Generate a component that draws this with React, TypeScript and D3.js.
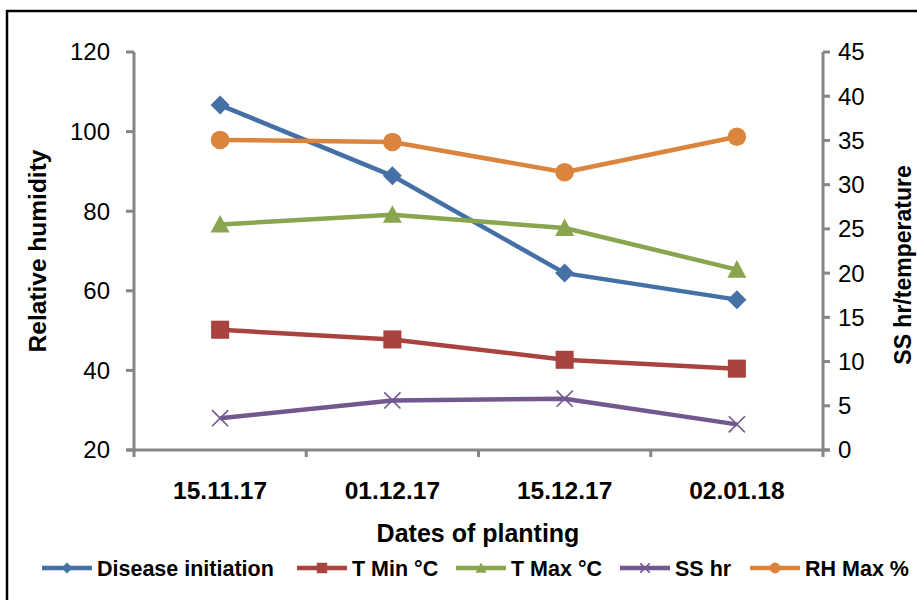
import React from "react";
import * as d3 from "d3";

const categories = ["15.11.17", "01.12.17", "15.12.17", "02.01.18"];
const diseaseInitiation = [39, 31, 20, 17];
const tMin = [13.6, 12.5, 10.2, 9.2];
const tMax = [25.5, 26.6, 25.1, 20.4];
const ssHr = [3.6, 5.6, 5.8, 2.9];
const rhMax = [97.9, 97.4, 89.8, 98.7];
const leftTicks = [20, 40, 60, 80, 100, 120];
const rightTicks = [0, 5, 10, 15, 20, 25, 30, 35, 40, 45];

type Marker = "diamond" | "square" | "triangle" | "x" | "circle";
type Series = { name: string; values: number[]; color: string; marker: Marker; axis: "left" | "right" };

const series: Series[] = [
  { name: "Disease initiation", values: diseaseInitiation, color: "#4470A6", marker: "diamond", axis: "right" },
  { name: "T Min °C", values: tMin, color: "#A8433F", marker: "square", axis: "right" },
  { name: "T Max °C", values: tMax, color: "#89A54E", marker: "triangle", axis: "right" },
  { name: "SS hr", values: ssHr, color: "#71588F", marker: "x", axis: "right" },
  { name: "RH Max %", values: rhMax, color: "#DB843D", marker: "circle", axis: "left" },
];

const W = 917;
const H = 600;
const plotLeft = 134;
const plotRight = 823;
const plotTop = 52;
const plotBottom = 450;
const axisColor = "#868686";
const font = "'Liberation Sans', Arial, sans-serif";

function MarkerShape({ type, cx, cy, s, color }: { type: Marker; cx: number; cy: number; s: number; color: string }) {
  const h = s / 2;
  switch (type) {
    case "diamond":
      return <path d={`M${cx},${cy - h}L${cx + h},${cy}L${cx},${cy + h}L${cx - h},${cy}Z`} fill={color} />;
    case "square":
      return <rect x={cx - h * 0.95} y={cy - h * 0.95} width={s * 0.95} height={s * 0.95} fill={color} />;
    case "triangle":
      return <path d={`M${cx},${cy - h}L${cx + h},${cy + h * 0.85}L${cx - h},${cy + h * 0.85}Z`} fill={color} />;
    case "x": {
      const k = h * 0.85;
      return (
        <path
          d={`M${cx - k},${cy - k}L${cx + k},${cy + k}M${cx - k},${cy + k}L${cx + k},${cy - k}`}
          stroke={color}
          strokeWidth={1.6}
          fill="none"
        />
      );
    }
    case "circle":
      return <circle cx={cx} cy={cy} r={h * 0.98} fill={color} />;
  }
}

export default function App() {
  const x = d3.scaleBand<string>().domain(categories).range([plotLeft, plotRight]);
  const yLeft = d3.scaleLinear().domain([20, 120]).range([plotBottom, plotTop]);
  const yRight = d3.scaleLinear().domain([0, 45]).range([plotBottom, plotTop]);
  const cx = (c: string) => (x(c) ?? 0) + x.bandwidth() / 2;

  const boundaries = d3.range(categories.length + 1).map((i) => plotLeft + i * x.bandwidth());

  const legendItems = [
    { lx: 42, tx: 97 },
    { lx: 297, tx: 352 },
    { lx: 456, tx: 511 },
    { lx: 620, tx: 675 },
    { lx: 750, tx: 805 },
  ];

  return (
    <svg
      width={W}
      height={H}
      style={{ position: "absolute", left: 0, top: 0, background: "#fff" }}
      fontFamily={font}
    >
      <rect x={0} y={0} width={W} height={H} fill="#fff" />
      <rect x={7} y={11} width={W + 20} height={H + 20} fill="none" stroke="#000" strokeWidth={2.5} />

      {/* left axis */}
      <line x1={plotLeft} x2={plotLeft} y1={plotTop} y2={plotBottom + 1.5} stroke={axisColor} strokeWidth={3} />
      {leftTicks.map((t) => (
        <g key={`l${t}`}>
          <line x1={plotLeft - 8} x2={plotLeft} y1={yLeft(t)} y2={yLeft(t)} stroke={axisColor} strokeWidth={3} />
          <text x={110} y={yLeft(t)} dy="0.35em" textAnchor="end" fontSize={24} fill="#000">
            {t}
          </text>
        </g>
      ))}

      {/* right axis */}
      <line x1={plotRight} x2={plotRight} y1={plotTop} y2={plotBottom + 1.5} stroke={axisColor} strokeWidth={3} />
      {rightTicks.map((t) => (
        <g key={`r${t}`}>
          <line x1={plotRight} x2={plotRight + 7} y1={yRight(t)} y2={yRight(t)} stroke={axisColor} strokeWidth={3} />
          <text x={838} y={yRight(t)} dy="0.35em" textAnchor="start" fontSize={24} fill="#000">
            {t}
          </text>
        </g>
      ))}

      {/* category axis */}
      <line x1={plotLeft - 8} x2={plotRight + 7} y1={plotBottom} y2={plotBottom} stroke={axisColor} strokeWidth={3} />
      {boundaries.map((b, i) => (
        <line key={`b${i}`} x1={b} x2={b} y1={plotBottom} y2={plotBottom + 7} stroke={axisColor} strokeWidth={3} />
      ))}
      {categories.map((c) => (
        <text key={c} x={cx(c)} y={490} dy="0.35em" textAnchor="middle" fontSize={24.5} fontWeight="bold" fill="#000">
          {c}
        </text>
      ))}

      {/* axis titles */}
      <text
        transform={`translate(37,${(plotTop + plotBottom) / 2}) rotate(-90)`}
        textAnchor="middle"
        dy="0.35em"
        fontSize={24.5}
        fontWeight="bold"
      >
        Relative humidity
      </text>
      <text
        transform={`translate(903,265) rotate(-90)`}
        textAnchor="middle"
        dy="0.35em"
        fontSize={23}
        fontWeight="bold"
      >
        SS hr/temperature
      </text>
      <text x={478} y={533} dy="0.35em" textAnchor="middle" fontSize={25} fontWeight="bold">
        Dates of planting
      </text>

      {/* series */}
      {series.map((s) => {
        const y = s.axis === "left" ? yLeft : yRight;
        const line = d3
          .line<number>()
          .x((_, i) => cx(categories[i]))
          .y((v) => y(v));
        return (
          <g key={s.name}>
            <path d={line(s.values) ?? ""} fill="none" stroke={s.color} strokeWidth={4.5} strokeLinejoin="round" />
            {s.values.map((v, i) => (
              <MarkerShape key={i} type={s.marker} cx={cx(categories[i])} cy={y(v)} s={19} color={s.color} />
            ))}
          </g>
        );
      })}

      {/* legend */}
      {series.map((s, i) => {
        const li = legendItems[i];
        return (
          <g key={`leg${s.name}`}>
            <line x1={li.lx} x2={li.lx + 50} y1={568} y2={568} stroke={s.color} strokeWidth={4.5} />
            <MarkerShape type={s.marker} cx={li.lx + 25} cy={568} s={11} color={s.color} />
            <text x={li.tx} y={568} dy="0.35em" fontSize={21.5} fontWeight="bold">
              {s.name}
            </text>
          </g>
        );
      })}
    </svg>
  );
}
